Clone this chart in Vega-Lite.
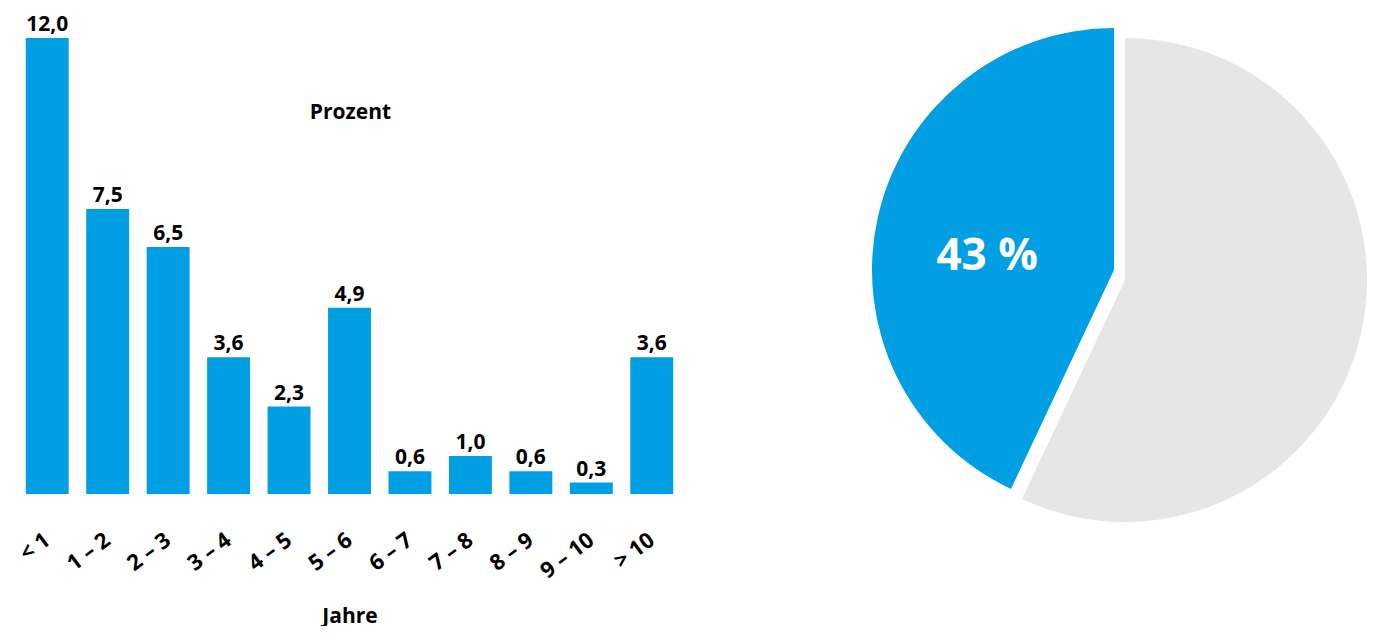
{
  "$schema": "https://vega.github.io/schema/vega-lite/v6.json",
  "padding": {"left": 15, "top": 14, "right": 0, "bottom": 0},
  "background": "white",
  "config": {
    "view": {"stroke": null},
    "font": "Open Sans",
    "locale": {"number": {"decimal": ",", "thousands": ".", "grouping": [3], "currency": ["", " €"]}},
    "concat": {"spacing": 190}
  },
  "datasets": {
    "jahre": [
      {"jahre": "< 1", "prozent": 12.0},
      {"jahre": "1 – 2", "prozent": 7.5},
      {"jahre": "2 – 3", "prozent": 6.5},
      {"jahre": "3 – 4", "prozent": 3.6},
      {"jahre": "4 – 5", "prozent": 2.3},
      {"jahre": "5 – 6", "prozent": 4.9},
      {"jahre": "6 – 7", "prozent": 0.6},
      {"jahre": "7 – 8", "prozent": 1.0},
      {"jahre": "8 – 9", "prozent": 0.6},
      {"jahre": "9 – 10", "prozent": 0.3},
      {"jahre": "> 10", "prozent": 3.6}
    ],
    "anteil": [
      {"gruppe": "Anteil", "wert": 43, "label": "43 %"},
      {"gruppe": "Rest", "wert": 57, "label": ""}
    ]
  },
  "hconcat": [
    {
      "width": 665,
      "height": 456,
      "data": {"name": "jahre"},
      "encoding": {
        "x": {
          "field": "jahre", "type": "nominal", "sort": null,
          "scale": {"paddingInner": 0.29, "paddingOuter": 0.145},
          "axis": {
            "title": "Jahre", "labelAngle": -37, "labelAlign": "right", "labelBaseline": "middle",
            "labelPadding": 43, "labelFontSize": 22, "labelFontWeight": "bold", "labelColor": "black",
            "ticks": false, "domain": false, "grid": false,
            "titleFontSize": 21, "titleFontWeight": "bold", "titleColor": "black",
            "titleY": 128, "titleBaseline": "alphabetic"
          }
        },
        "y": {
          "field": "prozent", "type": "quantitative",
          "scale": {"domain": [0, 12]},
          "axis": {
            "title": "Prozent", "labels": false, "ticks": false, "domain": false, "grid": false,
            "titleAngle": 0, "titleX": 333, "titleY": 80, "titleAlign": "center", "titleBaseline": "alphabetic",
            "titleFontSize": 21, "titleFontWeight": "bold", "titleColor": "black"
          }
        }
      },
      "layer": [
        {"mark": {"type": "bar", "color": "#009FE3"}},
        {
          "mark": {"type": "text", "baseline": "alphabetic", "dy": -7, "fontSize": 21, "fontWeight": "bold", "color": "black"},
          "encoding": {"text": {"field": "prozent", "type": "quantitative", "format": ".1f"}}
        }
      ]
    },
    {
      "width": 484,
      "height": 484,
      "data": {"name": "anteil"},
      "transform": [
        {"stack": "wert", "groupby": [], "sort": [{"field": "wert", "order": "descending"}], "as": ["t0", "t1"]},
        {"calculate": "(datum.t0 + datum.t1) / 2", "as": "mid"}
      ],
      "layer": [
        {
          "transform": [{"filter": "datum.gruppe === 'Rest'"}],
          "mark": {"type": "arc", "color": "#E6E6E6", "outerRadius": 242},
          "encoding": {
            "theta": {"field": "t0", "type": "quantitative", "stack": null, "scale": {"domain": [0, 100]}},
            "theta2": {"field": "t1"}
          }
        },
        {
          "transform": [{"filter": "datum.gruppe === 'Anteil'"}],
          "mark": {"type": "arc", "color": "#009FE3", "outerRadius": 242, "xOffset": -11, "yOffset": -10},
          "encoding": {
            "theta": {"field": "t0", "type": "quantitative", "stack": null, "scale": {"domain": [0, 100]}},
            "theta2": {"field": "t1"}
          }
        },
        {
          "transform": [{"filter": "datum.gruppe === 'Anteil'"}],
          "mark": {"type": "text", "radius": 128, "xOffset": -13, "yOffset": -10, "dy": 15, "fontSize": 44, "fontWeight": "bold", "color": "white"},
          "encoding": {
            "theta": {"field": "mid", "type": "quantitative", "stack": null, "scale": {"domain": [0, 100]}},
            "text": {"field": "label"}
          }
        }
      ]
    }
  ]
}
